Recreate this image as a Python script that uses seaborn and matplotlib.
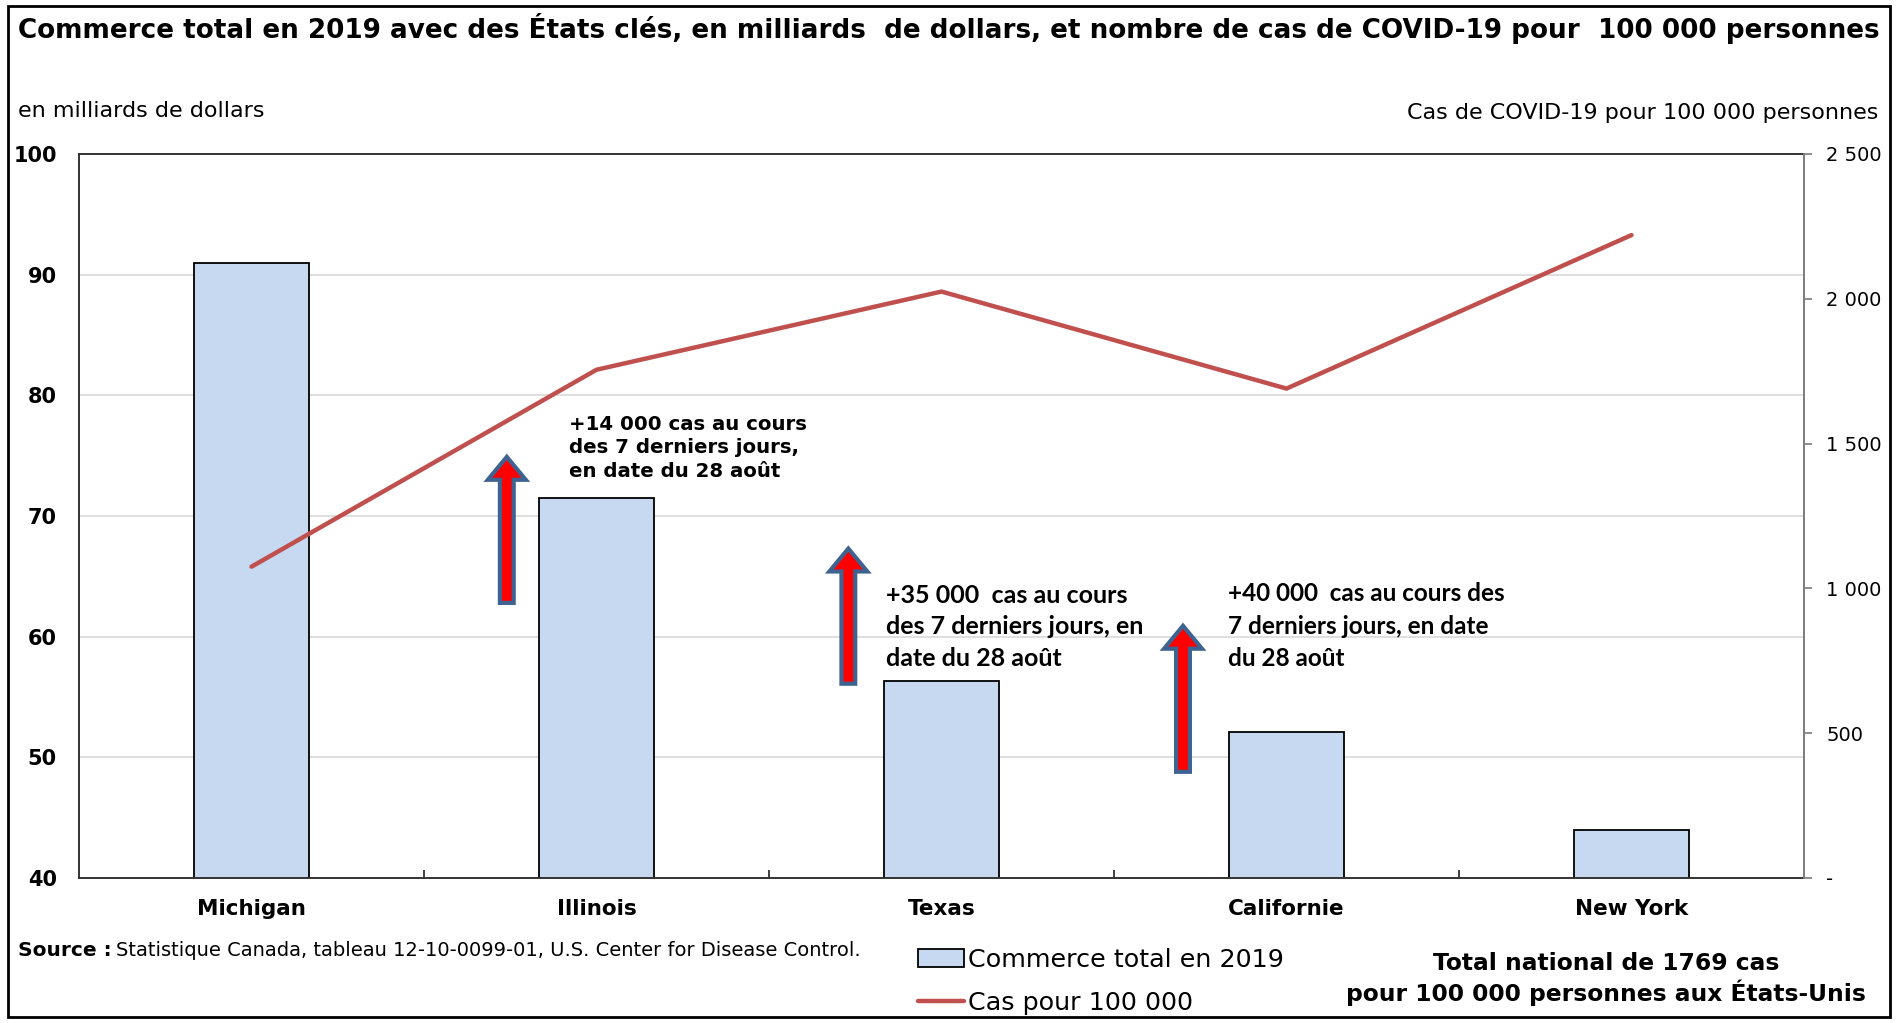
import matplotlib
matplotlib.use("Agg")
import matplotlib.pyplot as plt
import numpy as np
import seaborn as sns
from matplotlib.lines import Line2D
from matplotlib.patches import FancyArrow, Patch, Rectangle

sns.set_theme(style="white")
plt.rcParams['font.family'] = ['DejaVu Sans']
plt.rcParams['text.color'] = 'black'
plt.rcParams['xtick.color'] = 'black'
plt.rcParams['ytick.color'] = 'black'

# data
states = ['Michigan', 'Illinois', 'Texas', 'Californie', 'New York']
trade_2019 = [91.0, 71.5, 56.3, 52.1, 44.0]           # milliards de dollars
cases_per_100k = [1075, 1755, 2025, 1690, 2220]       # cas pour 100 000
left_ticks = [40, 50, 60, 70, 80, 90, 100]
right_ticks = [0, 500, 1000, 1500, 2000, 2500]
right_tick_labels = ['-', '500', '1 000', '1 500', '2 000', '2 500']

# weekly increase notes
notes = [
    '+14 000 cas au cours\ndes 7 derniers jours,\nen date du 28 août',
    '+35 000  cas au cours\ndes 7 derniers jours, en\ndate du 28 août',
    '+40 000  cas au cours des\n7 derniers jours, en date\ndu 28 août',
]
arrow_x = [0.74, 1.73, 2.70]
arrow_bottom = [62.8, 56.1, 48.8]
arrow_top = [74.9, 67.3, 60.9]
note_x = [0.92, 1.84, 2.83]
note_top = [78.4, 64.4, 64.5]

bar_color = '#C6D9F1'
line_color = '#C0504D'

fig = plt.figure(figsize=(18.96, 10.23), dpi=100)
W, H = 1896, 1023
ax = fig.add_axes([79 / W, 1 - 878 / H, (1804 - 79) / W, (878 - 154) / H])

x = np.arange(len(states))
sns.barplot(x=x, y=trade_2019, color=bar_color, edgecolor='black',
            linewidth=1.3, width=0.333, saturation=1, ax=ax, native_scale=True)
ax.set_xlim(-0.5, len(states) - 0.5)
ax.set_ylim(40, 100)
ax.set_yticks(left_ticks)
ax.set_yticklabels([str(v) for v in left_ticks], fontsize=15, fontweight='bold')
ax.tick_params(axis='y', length=0, pad=16)
ax.set_xticks(x)
ax.set_xticklabels(states, fontsize=15.5, fontweight='bold')
ax.tick_params(axis='x', length=0, pad=15)
ax.set_xticks(x[:-1] + 0.5, minor=True)
ax.tick_params(axis='x', which='minor', length=6, width=1.3, color='#333333',
               direction='in', bottom=True)
for v in left_ticks[1:-1]:
    ax.axhline(v, color='#D6D6D6', linewidth=1.1, zorder=0)
ax.set_axisbelow(True)
for s in ['left', 'top', 'bottom']:
    ax.spines[s].set_color('#333333')
    ax.spines[s].set_linewidth(1.4)
ax.set_xlabel('')
ax.set_ylabel('')

# arrows and notes
for ax_x, y0, y1 in zip(arrow_x, arrow_bottom, arrow_top):
    ax.add_patch(FancyArrow(ax_x, y0, 0, y1 - y0, width=0.04,
                            head_width=0.11, head_length=1.9,
                            length_includes_head=True, facecolor='#FF0000',
                            edgecolor='#3F6390', linewidth=3, zorder=4))
note_font = ['DejaVu Sans', 'Lato', 'Lato']
note_size = [14.2, 18, 17.5]
note_spacing = [1.3, 1.45, 1.5]
for txt, tx, ty, fam, sz, sp in zip(notes, note_x, note_top, note_font,
                                    note_size, note_spacing):
    ax.text(tx, ty, txt, ha='left', va='top', fontsize=sz,
            fontweight='bold', family=fam, linespacing=sp, zorder=5)

# cases per 100 000 on the right axis
ax2 = ax.twinx()
sns.lineplot(x=x, y=cases_per_100k, color=line_color, linewidth=3.2,
             ax=ax2, legend=False)
ax2.set_ylim(0, 2500)
ax2.set_yticks(right_ticks)
ax2.set_yticklabels(right_tick_labels, fontsize=14)
ax2.tick_params(axis='y', right=True, length=6, color='#808080',
                direction='out', pad=10)
ax2.spines['right'].set_color('#808080')
ax2.spines['right'].set_linewidth(1.4)
for s in ['left', 'top', 'bottom']:
    ax2.spines[s].set_visible(False)
ax2.set_xlabel('')
ax2.set_ylabel('')
ax2.grid(False)

# texts
fig.text(18 / W, 1 - 29 / H,
         'Commerce total en 2019 avec des États clés, en milliards  de dollars, '
         'et nombre de cas de COVID-19 pour  100 000 personnes',
         fontsize=18.9, fontweight='bold', ha='left', va='center')
fig.text(18 / W, 1 - 111 / H, 'en milliards de dollars', fontsize=16,
         ha='left', va='center')
fig.text(1878 / W, 1 - 113 / H, 'Cas de COVID-19 pour 100 000 personnes',
         fontsize=16, ha='right', va='center')
fig.text(18 / W, 1 - 950 / H, 'Source :', fontsize=14.5, fontweight='bold',
         ha='left', va='center')
fig.text(116 / W, 1 - 950 / H,
         'Statistique Canada, tableau 12-10-0099-01, U.S. Center for Disease Control.',
         fontsize=14, ha='left', va='center')
fig.text(1606 / W, 1 - 979 / H,
         'Total national de 1769 cas\npour 100 000 personnes aux États-Unis',
         fontsize=16.8, fontweight='bold', ha='center', va='center',
         linespacing=1.2)

handles = [Patch(facecolor=bar_color, edgecolor='black', linewidth=1.3),
           Line2D([], [], color=line_color, linewidth=3.2)]
fig.legend(handles, ['Commerce total en 2019', 'Cas pour 100 000'],
           loc='upper left', bbox_to_anchor=(918 / W, 1 - 948 / H),
           frameon=False, fontsize=18.3, handlelength=1.8, handletextpad=0.15,
           labelspacing=0.74, borderaxespad=0, borderpad=0)

fig.add_artist(Rectangle((8 / W, 6 / H), 1882 / W, 1011 / H,
                         transform=fig.transFigure, fill=False,
                         edgecolor='black', linewidth=2))

fig.savefig('out.png', dpi=100)
